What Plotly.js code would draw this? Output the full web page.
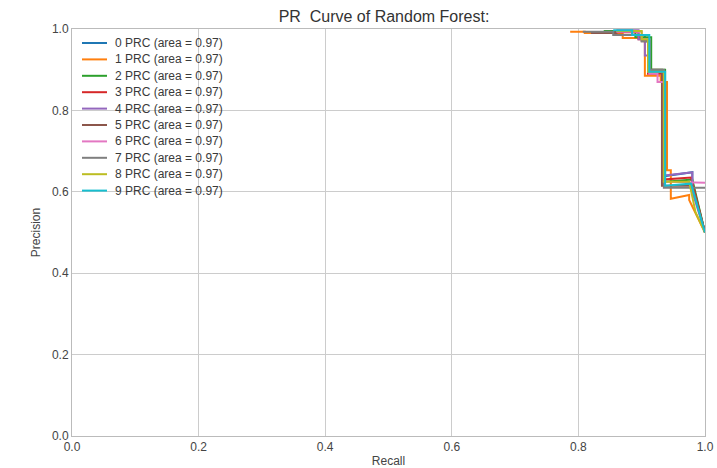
<!DOCTYPE html>
<html>
<head>
<meta charset="utf-8">
<script src="https://cdn.plot.ly/plotly-3.0.1.min.js"></script>
<style>html,body{margin:0;padding:0;background:#fff;}#chart{width:717px;height:468px;}</style>
</head>
<body>
<div id="chart"></div>
<script>
const chartTitle = "PR\u00a0 Curve of Random Forest:";
const xTickVals = [0.0, 0.2, 0.4, 0.6, 0.8, 1.0];
const xTickText = ["0.0", "0.2", "0.4", "0.6", "0.8", "1.0"];
const yTickVals = [0.0, 0.2, 0.4, 0.6, 0.8, 1.0];
const yTickText = ["0.0", "0.2", "0.4", "0.6", "0.8", "1.0"];
const classNames = ["0", "1", "2", "3", "4", "5", "6", "7", "8", "9"];
const areas = [0.97, 0.97, 0.97, 0.97, 0.97, 0.97, 0.97, 0.97, 0.97, 0.97];
const colors = ["#1f77b4", "#ff7f0e", "#2ca02c", "#d62728", "#9467bd", "#8c564b", "#e377c2", "#7f7f7f", "#bcbd22", "#17becf"];

const recall0 = [0.85, 0.885, 0.885, 0.905, 0.905, 0.912, 0.912, 0.935, 0.935, 0.980, 0.980, 1.0];
const prec0   = [0.995, 0.995, 0.985, 0.985, 0.97, 0.97, 0.895, 0.895, 0.638, 0.648, 0.62, 0.5];
const recall1 = [0.787, 0.81, 0.81, 0.87, 0.87, 0.905, 0.905, 0.93, 0.93, 0.94, 0.94, 0.946, 0.946, 0.975, 0.975, 1.0];
const prec1   = [0.993, 0.993, 0.99, 0.99, 0.978, 0.978, 0.885, 0.885, 0.87, 0.87, 0.653, 0.653, 0.583, 0.592, 0.58, 0.5];
const recall2 = [0.84, 0.89, 0.89, 0.915, 0.915, 0.937, 0.937, 0.98, 1.0];
const prec2   = [0.995, 0.995, 0.98, 0.98, 0.9, 0.9, 0.625, 0.63, 0.5];
const recall3 = [0.855, 0.895, 0.895, 0.91, 0.91, 0.933, 0.933, 0.978, 1.0];
const prec3   = [0.992, 0.992, 0.975, 0.975, 0.89, 0.89, 0.63, 0.635, 0.5];
const recall4 = [0.86, 0.895, 0.895, 0.905, 0.905, 0.91, 0.91, 0.935, 0.935, 0.98, 0.98, 1.0];
const prec4   = [0.997, 0.997, 0.975, 0.975, 0.935, 0.935, 0.895, 0.895, 0.64, 0.648, 0.6, 0.5];
const recall5 = [0.82, 0.86, 0.86, 0.9, 0.9, 0.912, 0.912, 0.932, 0.932, 0.98, 1.0];
const prec5   = [0.99, 0.99, 0.985, 0.985, 0.97, 0.97, 0.9, 0.9, 0.615, 0.615, 0.5];
const recall6 = [0.86, 0.9, 0.9, 0.912, 0.912, 0.925, 0.925, 0.935, 0.935, 1.0];
const prec6   = [0.993, 0.993, 0.975, 0.975, 0.89, 0.89, 0.87, 0.87, 0.625, 0.622];
const recall7 = [0.807, 0.855, 0.855, 0.9, 0.9, 0.912, 0.912, 0.935, 0.935, 1.0];
const prec7   = [0.993, 0.993, 0.985, 0.985, 0.97, 0.97, 0.9, 0.9, 0.61, 0.61];
const recall8 = [0.86, 0.9, 0.9, 0.91, 0.91, 0.935, 0.935, 0.975, 0.985, 1.0];
const prec8   = [0.995, 0.995, 0.975, 0.975, 0.895, 0.895, 0.625, 0.625, 0.55, 0.5];
const recall9 = [0.855, 0.885, 0.885, 0.912, 0.912, 0.937, 0.937, 0.978, 1.0];
const prec9   = [0.997, 0.997, 0.985, 0.985, 0.895, 0.895, 0.615, 0.62, 0.5];

const recalls = [recall0, recall1, recall2, recall3, recall4, recall5, recall6, recall7, recall8, recall9];
const precs = [prec0, prec1, prec2, prec3, prec4, prec5, prec6, prec7, prec8, prec9];

const traces = recalls.map((r, i) => ({
  x: r, y: precs[i], type: 'scatter', mode: 'lines',
  name: classNames[i] + ' PRC (area = ' + areas[i].toFixed(2) + ')',
  line: {color: colors[i], width: 2},
  showlegend: false
}));

// legend drawn as layout shapes + annotations (paper coords)
const plotL = 72, plotR = 705, plotT = 29, plotB = 436;
const pw = plotR - plotL, ph = plotB - plotT;
const shapes = [], annotations = [];
classNames.forEach((c, i) => {
  const py = 43 + 16.4 * i;
  const yp = (plotB - py) / ph;
  shapes.push({type: 'line', xref: 'paper', yref: 'paper',
    x0: (82 - plotL) / pw, x1: (107 - plotL) / pw, y0: yp, y1: yp,
    line: {color: colors[i], width: 2}});
  annotations.push({xref: 'paper', yref: 'paper', x: (113 - plotL) / pw, y: yp,
    xanchor: 'left', yanchor: 'middle', showarrow: false,
    text: traces[i].name, font: {family: 'Liberation Sans, Arial, sans-serif', size: 12, color: '#3a3a3a'}});
});

const layout = {
  width: 717, height: 468,
  margin: {l: plotL, r: 717 - plotR, t: plotT, b: 468 - plotB},
  paper_bgcolor: '#fff', plot_bgcolor: '#fff',
  title: {text: chartTitle, x: (384 - plotL) / pw, xref: 'paper', xanchor: 'center', y: 0.966, yanchor: 'middle',
    font: {family: 'Liberation Sans, Arial, sans-serif', size: 16, color: '#333'}},
  showlegend: false,
  xaxis: {range: [0, 1], tickvals: xTickVals, ticktext: xTickText,
    showgrid: true, gridcolor: '#cccccc', gridwidth: 1, zeroline: false,
    showline: true, linecolor: '#bbbbbb', linewidth: 1, mirror: true, ticks: '',
    tickfont: {family: 'Liberation Sans, Arial, sans-serif', size: 12, color: '#444'},
    title: {text: 'Recall', standoff: 6, font: {family: 'Liberation Sans, Arial, sans-serif', size: 12, color: '#444'}}},
  yaxis: {range: [0, 1], tickvals: yTickVals, ticktext: yTickText,
    showgrid: true, gridcolor: '#cccccc', gridwidth: 1, zeroline: false,
    showline: true, linecolor: '#bbbbbb', linewidth: 1, mirror: true, ticks: '',
    tickfont: {family: 'Liberation Sans, Arial, sans-serif', size: 12, color: '#444'},
    title: {text: 'Precision', standoff: 8, font: {family: 'Liberation Sans, Arial, sans-serif', size: 12, color: '#444'}}},
  shapes: shapes, annotations: annotations
};

Plotly.newPlot('chart', traces, layout, {displayModeBar: false, staticPlot: true});
</script>
</body>
</html>
